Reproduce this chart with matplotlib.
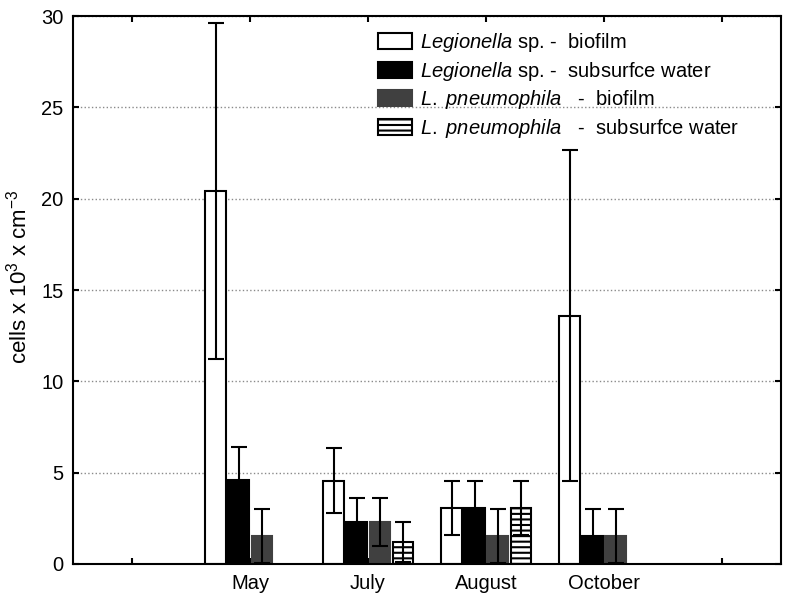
import numpy as np
import matplotlib.pyplot as plt

plt.rcParams['font.family'] = 'Liberation Sans'
plt.rcParams['mathtext.fontset'] = 'custom'
plt.rcParams['mathtext.rm'] = 'Liberation Sans'
plt.rcParams['mathtext.it'] = 'Liberation Sans:italic'
plt.rcParams['hatch.linewidth'] = 1.5

# months (first and last slot empty on the axis)
months = ['', 'May', 'July', 'August', 'October', '']
group_pos = [1, 2, 3, 4]

# mean values and errors, cells x 10^3 x cm^-3
leg_biofilm = [20.4, 4.57, 3.05, 13.6]
leg_biofilm_err = [9.2, 1.8, 1.48, 9.05]
leg_water = [4.6, 2.3, 3.05, 1.55]
leg_water_err = [1.8, 1.3, 1.48, 1.48]
pn_biofilm = [1.55, 2.3, 1.55, 1.55]
pn_biofilm_err = [1.48, 1.3, 1.48, 1.48]
pn_water = [np.nan, 1.2, 3.05, np.nan]
pn_water_err = [np.nan, 1.1, 1.48, np.nan]

labels = [r'$\mathit{Legionella}$ sp. -  biofilm',
          r'$\mathit{Legionella}$ sp. -  subsurfce water',
          r'$\mathit{L.\ pneumophila}$   -  biofilm',
          r'$\mathit{L.\ pneumophila}$   -  subsurfce water']

fig = plt.figure(figsize=(7.87, 5.96), dpi=100)
ax = fig.add_axes([0.0928, 0.0537, 0.8996, 0.9193])

step = 0.195
width = 0.17
series = [
    (leg_biofilm, leg_biofilm_err, dict(facecolor='white', edgecolor='black')),
    (leg_water, leg_water_err, dict(facecolor='black', edgecolor='black')),
    (pn_biofilm, pn_biofilm_err, dict(facecolor='#404040', edgecolor='#404040')),
    (pn_water, pn_water_err, dict(facecolor='white', edgecolor='black', hatch='---')),
]

handles = []
x0 = np.array(group_pos, dtype=float)
for i, (vals, errs, style) in enumerate(series):
    xs = x0 + (i - 1.5) * step
    b = ax.bar(xs, vals, width=width, linewidth=1.5, zorder=2, **style)
    handles.append(b)
    ax.errorbar(xs, vals, yerr=errs, fmt='none', ecolor='black',
                elinewidth=1.5, capsize=6, capthick=1.5, zorder=3)

ax.set_xlim(-0.5, 5.5)
ax.set_ylim(0, 30)
ax.set_xticks(range(6))
ax.set_xticklabels(months, fontsize=14.5)
ax.set_yticks(range(0, 31, 5))
ax.tick_params(axis='y', labelsize=14.5)
ax.tick_params(direction='in', length=4, width=1.5, top=True, right=True, pad=7)
ax.yaxis.grid(True, linestyle=':', color='#8a8a8a', linewidth=1.0, zorder=0)
ax.set_axisbelow(True)
for s in ax.spines.values():
    s.set_linewidth(1.5)

ax.set_ylabel(r'cells x 10$^3$ x cm$^{-3}$', fontsize=16)
ax.yaxis.set_label_coords(-0.059, 0.525)

ax.legend(handles, labels, loc='upper left', bbox_to_anchor=(0.431, 0.972),
          frameon=False, fontsize=14.5, handlelength=1.7, handleheight=0.85,
          handletextpad=0.4, labelspacing=0.27, borderpad=0, borderaxespad=0)

plt.savefig('out.png', dpi=100)
